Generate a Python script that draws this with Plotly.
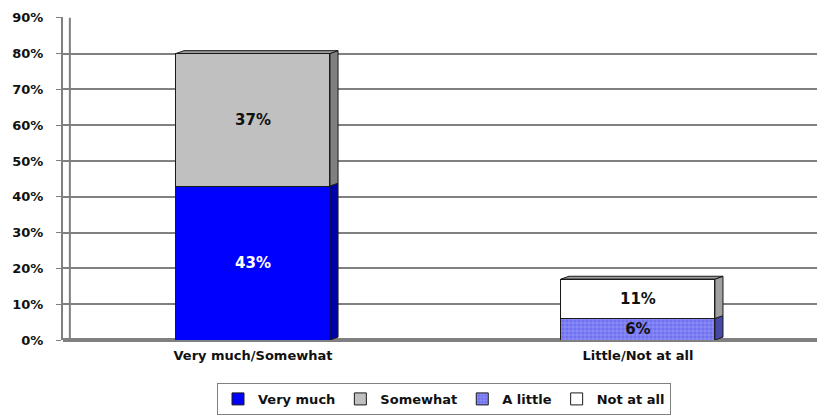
import plotly.graph_objects as go

categories = ["Very much/Somewhat", "Little/Not at all"]
series_names = ["Very much", "Somewhat", "A little", "Not at all"]
very_much = [43, None]
somewhat = [37, None]
a_little = [None, 6]
not_at_all = [None, 11]
y_ticks = [0, 10, 20, 30, 40, 50, 60, 70, 80, 90]
y_tick_labels = [f"{v}%" for v in y_ticks]

xpos = [0, 1]
bar_w = 0.40
FONT = "DejaVu Sans, Verdana, sans-serif"

fig = go.Figure()

def add_bar(name, vals, color, text_color, pattern=None):
    marker = dict(color=color, line=dict(color="#1a1a1a", width=1))
    if pattern:
        marker["pattern"] = pattern
    fig.add_trace(go.Bar(
        name=name, x=xpos, y=vals, width=bar_w, marker=marker,
        text=[f"{v}%" if v is not None else "" for v in vals],
        textposition="inside", insidetextanchor="middle",
        textfont=dict(color=text_color, size=15, family=FONT, weight="bold"),
        hoverinfo="skip",
    ))

add_bar("Very much", very_much, "#0000FF", "white")
add_bar("Somewhat", somewhat, "#C0C0C0", "#111111")
add_bar("A little", a_little, "#7A7AF5", "#111111",
        pattern=dict(shape="+", size=4, solidity=0.25, fgcolor="#A8A8FF", bgcolor="#7070F0", fillmode="replace"))
add_bar("Not at all", not_at_all, "#FFFFFF", "#111111")

# pseudo-3D side and top faces derived from data
dx = 0.021
dy = 0.8
side_colors = {"Very much": "#0000A8", "Somewhat": "#808080", "A little": "#4848A8", "Not at all": "#A0A0A0"}
stacks = [[("Very much", very_much), ("Somewhat", somewhat)],
          [("A little", a_little), ("Not at all", not_at_all)]]
for i, stack in enumerate(stacks):
    base = 0
    xr = xpos[i] + bar_w / 2
    xl = xpos[i] - bar_w / 2
    for name, vals in stack:
        v = vals[i]
        top = base + v
        fig.add_shape(type="path",
                      path=f"M {xr} {base} L {xr+dx} {base+dy} L {xr+dx} {top+dy} L {xr} {top} Z",
                      xref="x", yref="y", fillcolor=side_colors[name],
                      line=dict(color="#1a1a1a", width=1), layer="above")
        base = top
    fig.add_shape(type="path",
                  path=f"M {xl} {base} L {xl+dx} {base+dy} L {xr+dx} {base+dy} L {xr} {base} Z",
                  xref="x", yref="y", fillcolor="#9A9A9A",
                  line=dict(color="#1a1a1a", width=1), layer="above")

# back wall edge
fig.add_shape(type="line", xref="paper", yref="y", x0=0.009, x1=0.009, y0=0, y1=90,
              line=dict(color="#808080", width=2), layer="below")

fig.update_layout(
    width=817, height=408,
    margin=dict(l=55, r=0, t=9, b=76),
    paper_bgcolor="white", plot_bgcolor="white",
    barmode="stack",
    showlegend=True,
    uniformtext=dict(minsize=15, mode="show"),
    font=dict(family=FONT, size=13, color="#111111", weight="bold"),
    legend=dict(orientation="h", x=0.50, xanchor="center", y=-0.133, yanchor="top",
                bordercolor="#808080", borderwidth=1, bgcolor="white",
                font=dict(size=13, family=FONT, weight="bold"),
                itemwidth=30, tracegroupgap=0, traceorder="normal"),
    xaxis=dict(range=[-0.4935, 1.486], tickmode="array", tickvals=xpos, ticktext=categories,
               showgrid=False, zeroline=False, showline=False, ticks="",
               ticklabelstandoff=6,
               tickfont=dict(size=13, family=FONT, weight="bold")),
    yaxis=dict(range=[0, 90.2], tickmode="array", tickvals=y_ticks, ticktext=y_tick_labels,
               showgrid=True, gridcolor="#808080", gridwidth=2,
               zeroline=True, zerolinecolor="#808080", zerolinewidth=4,
               showline=True, linecolor="#808080", linewidth=2,
               ticks="outside", ticklen=5, tickcolor="#808080", ticklabelstandoff=10,
               tickfont=dict(size=13, family=FONT, weight="bold")),
)

fig.write_html("out.html")
